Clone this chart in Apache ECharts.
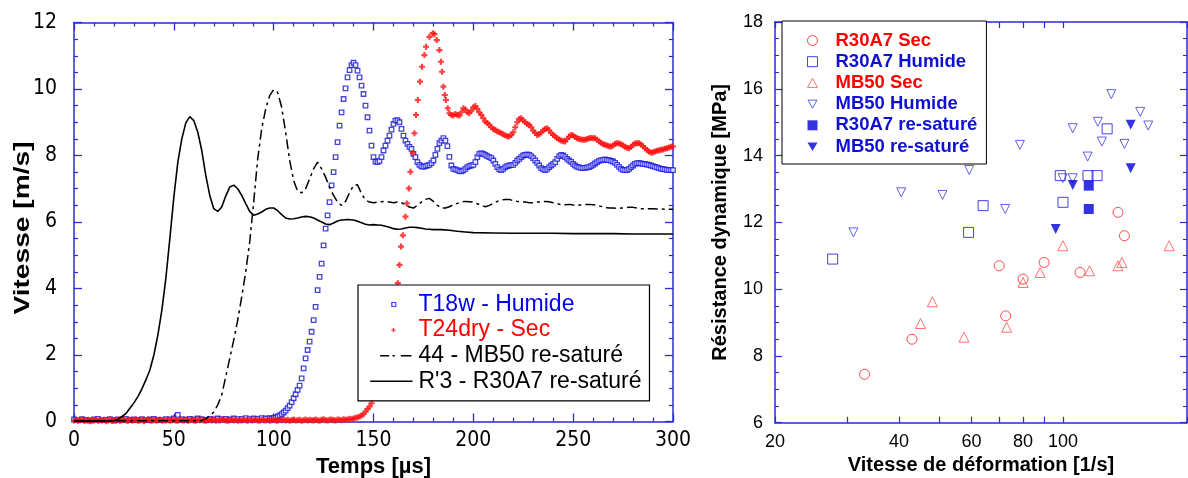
<!DOCTYPE html>
<html><head><meta charset="utf-8">
<script src="https://cdn.jsdelivr.net/npm/echarts@6/dist/echarts.min.js"></script>
<style>html,body{margin:0;padding:0;background:#fff}#c{width:1188px;height:478px}</style>
</head><body><div id="c"></div><script>
// ---------------- Left chart: velocity vs time ----------------
const LEFT_X_TICKS = { min: 0, max: 300, interval: 50 };
const LEFT_Y_TICKS = { min: 0, max: 12, interval: 2 };

// T18w - Humide  [time µs, velocity m/s]
const t18wHumide = [
[0,0.06],[2,0.04],[4,0.07],[6,0.05],[8,0.03],[10,0.06],[12,0.08],[14,0.04],[16,0.05],[18,0.07],
[20,0.03],[22,0.06],[24,0.05],[26,0.08],[28,0.04],[30,0.06],[32,0.05],[34,0.07],[36,0.04],[38,0.06],
[40,0.08],[42,0.05],[44,0.04],[46,0.07],[48,0.06],[50,0.09],[52,0.2],[54,0.07],[56,0.05],[58,0.08],
[60,0.06],[62,0.09],[64,0.07],[66,0.05],[68,0.08],[70,0.06],[72,0.09],[74,0.07],[76,0.08],[78,0.06],
[80,0.09],[82,0.07],[84,0.08],[86,0.1],[88,0.07],[90,0.09],[92,0.08],[94,0.1],[96,0.09],[98,0.1],
[99,0.09],[100,0.1],[101,0.12],[102,0.15],[103,0.18],[104,0.22],[105,0.27],[106,0.33],[107,0.4],[108,0.48],
[109,0.58],[110,0.7],[111,0.82],[112,0.95],[113,1.08],[114,1.3],[115,1.6],[116,1.9],[117,2.15],[118,2.4],
[119,2.7],[120,3.05],[121,3.45],[122,3.95],[123,4.35],[124,4.75],[125,5.3],[126,5.8],[127,6.2],[128,6.6],
[129,7.1],[130,7.5],[131,7.95],[132,8.4],[133,8.9],[134,9.3],[135,9.7],[136,10.02],[137,10.35],[138,10.57],
[139,10.72],[140,10.79],[141,10.72],[142,10.55],[143,10.35],[144,10.1],[145,9.85],[146,9.5],[147,9.15],[148,8.75],
[149,8.3],[150,7.95],[151,7.82],[152,7.8],[153,7.84],[154,7.95],[155,8.15],[156,8.3],[157,8.45],[158,8.6],
[159,8.78],[160,8.95],[161,9.05],[162,9.06],[163,9.0],[164,8.8],[165,8.6],[166,8.45],[167,8.35],[168,8.26],
[169,8.2],[170,8.05],[171,7.95],[172,7.8],[173,7.72],[174,7.67],[175,7.66],[176,7.68],[177,7.7],[178,7.72],
[179,7.77],[180,7.85],[181,8.02],[182,8.2],[183,8.37],[184,8.45],[185,8.52],[186,8.45],[187,8.28],[188,7.96],
[189,7.7],[190,7.6],[191,7.58],[192,7.56],[193,7.53],[194,7.52],[195,7.55],[196,7.6],[197,7.65],[198,7.68],
[199,7.7],[200,7.72],[201,7.8],[202,7.95],[203,8.05],[204,8.07],[205,8.05],[206,8.02],[207,7.98],[208,7.95],
[209,7.92],[210,7.85],[211,7.75],[212,7.65],[213,7.58],[214,7.56],[215,7.6],[216,7.65],[217,7.68],[218,7.7],
[219,7.71],[220,7.72],[221,7.78],[222,7.85],[223,7.9],[224,7.95],[225,8.0],[226,8.02],[227,8.03],[228,8.02],
[229,7.98],[230,7.92],[231,7.85],[232,7.78],[233,7.7],[234,7.62],[235,7.58],[236,7.56],[237,7.6],[238,7.65],
[239,7.7],[240,7.75],[241,7.8],[242,7.9],[243,7.98],[244,8.02],[245,8.0],[246,7.95],[247,7.9],[248,7.85],
[249,7.81],[250,7.75],[251,7.7],[252,7.66],[253,7.64],[254,7.63],[255,7.63],[256,7.63],[257,7.64],[258,7.65],
[259,7.68],[260,7.72],[261,7.76],[262,7.8],[263,7.84],[264,7.86],[265,7.87],[266,7.88],[267,7.86],[268,7.86],
[269,7.84],[270,7.82],[271,7.78],[272,7.72],[273,7.66],[274,7.6],[275,7.57],[276,7.56],[277,7.56],[278,7.6],
[279,7.65],[280,7.7],[281,7.75],[282,7.77],[283,7.77],[284,7.76],[285,7.75],[286,7.74],[287,7.73],[288,7.72],
[289,7.7],[290,7.68],[291,7.66],[292,7.64],[293,7.62],[294,7.6],[295,7.59],[296,7.58],[297,7.57],[298,7.56],
[299,7.56],[300,7.56]
];

// T24dry - Sec
const t24drySec = [
[0,0.03],[1,0.05],[2,0.02],[3,0.04],[4,0.06],[5,0.02],[6,0.03],[7,0.05],[8,0.01],[9,0.04],
[10,0.03],[11,0.06],[12,0.02],[13,0.04],[14,0.03],[15,0.05],[16,0.01],[17,0.03],[18,0.06],[19,0.02],
[20,0.04],[21,0.03],[22,0.05],[23,0.02],[24,0.04],[25,0.07],[26,0.03],[27,0.02],[28,0.05],[29,0.03],
[30,0.04],[31,0.06],[32,0.02],[33,0.03],[34,0.05],[35,0.01],[36,0.04],[37,0.06],[38,0.03],[39,0.02],
[40,0.05],[41,0.03],[42,0.04],[43,0.06],[44,0.02],[45,0.04],[46,0.03],[47,0.05],[48,0.02],[49,0.04],
[50,0.06],[51,0.03],[52,0.02],[53,0.05],[54,0.04],[55,0.03],[56,0.06],[57,0.02],[58,0.04],[59,0.05],
[60,0.03],[61,0.02],[62,0.05],[63,0.04],[64,0.06],[65,0.03],[66,0.02],[67,0.04],[68,0.05],[69,0.03],
[70,0.06],[71,0.02],[72,0.04],[73,0.03],[74,0.05],[75,0.07],[76,0.03],[77,0.02],[78,0.04],[79,0.06],
[80,0.03],[81,0.05],[82,0.02],[83,0.04],[84,0.03],[85,0.06],[86,0.04],[87,0.02],[88,0.05],[89,0.03],
[90,0.04],[91,0.06],[92,0.03],[93,0.02],[94,0.05],[95,0.04],[96,0.03],[97,0.06],[98,0.02],[99,0.04],
[100,0.05],[101,0.03],[102,0.02],[103,0.05],[104,0.04],[105,0.06],[106,0.03],[107,0.05],[108,0.02],[109,0.04],
[110,0.06],[111,0.03],[112,0.04],[113,0.05],[114,0.02],[115,0.04],[116,0.06],[117,0.03],[118,0.05],[119,0.04],
[120,0.03],[121,0.06],[122,0.04],[123,0.02],[124,0.05],[125,0.07],[126,0.04],[127,0.03],[128,0.05],[129,0.06],
[130,0.04],[131,0.03],[132,0.06],[133,0.05],[134,0.04],[135,0.07],[136,0.05],[137,0.06],[138,0.08],[139,0.07],
[140,0.09],[141,0.11],[142,0.12],[143,0.15],[144,0.18],[145,0.22],[146,0.3],[147,0.37],[148,0.45],[149,0.55],
[150,0.7],[151,0.85],[152,1.0],[153,1.2],[154,1.42],[155,1.65],[156,1.9],[157,2.2],[158,2.5],[159,2.85],
[160,3.2],[161,3.65],[162.2,4.16],[163,4.71],[163.8,5.26],[164.7,5.6],[166,6.16],[166.7,6.56],[167.7,7.01],[168.5,7.51],
[169.7,8.07],[170.5,8.67],[171.3,9.22],[172.2,9.67],[173.3,10.22],[174.3,10.67],[175.5,11.02],[176.3,11.27],[178,11.57],[179.7,11.68],
[180.5,11.65],[181.7,11.47],[183,11.17],[183.8,10.82],[184.3,10.52],[185,10.07],[185.7,9.82],[186.3,9.67],[187.2,9.42],[188,9.27],
[189,9.22],[190,9.2],[191,9.25],[192,9.22],[193,9.2],[194,9.3],[195,9.42],[196,9.38],[197,9.3],[198,9.27],
[199,9.35],[200,9.45],[201,9.49],[202,9.4],[203,9.3],[204,9.22],[205,9.12],[206,9.02],[207,8.98],[208,8.92],
[209,8.85],[210,8.8],[211,8.77],[212,8.72],[213,8.7],[214,8.67],[215,8.64],[216,8.6],[217,8.58],[218,8.57],
[219,8.62],[220,8.7],[221,8.85],[222,9.0],[223,9.1],[224,9.12],[225,9.05],[226,9.0],[227,8.95],[228,8.92],
[229,8.85],[230,8.75],[231,8.68],[232,8.62],[233,8.64],[234,8.7],[235,8.75],[236,8.8],[237,8.82],[238,8.76],
[239,8.68],[240,8.62],[241,8.57],[242,8.52],[243,8.48],[244,8.45],[245,8.43],[246,8.42],[247,8.5],[248,8.57],
[249,8.62],[250,8.6],[251,8.56],[252,8.52],[253,8.5],[254,8.48],[255,8.47],[256,8.47],[257,8.5],[258,8.52],
[259,8.53],[260,8.52],[261,8.52],[262,8.47],[263,8.42],[264,8.38],[265,8.34],[266,8.32],[267,8.3],[268,8.28],
[269,8.27],[270,8.3],[271,8.35],[272,8.37],[273,8.36],[274,8.34],[275,8.3],[276,8.26],[277,8.23],[278,8.22],
[279,8.26],[280,8.32],[281,8.36],[282,8.37],[283,8.37],[284,8.33],[285,8.28],[286,8.22],[287,8.16],[288,8.12],
[289,8.08],[290,8.1],[291,8.12],[292,8.14],[293,8.16],[294,8.17],[295,8.18],[296,8.2],[297,8.22],[298,8.24],
[299,8.26],[300,8.27]
];

// 44 - MB50 re-saturé
const mb50Resat44 = [
[0,0.02],[20,0.02],[40,0.02],[62,0.02],[64,0.03],[66,0.08],[68,0.18],[70,0.28],[72,0.5],[74,0.8],
[76,1.35],[78,1.9],[80,2.45],[82,3.05],[84,3.75],[86,4.5],[88,5.4],[90,6.6],[92,7.9],[94,8.8],
[96,9.4],[98,9.8],[100,9.98],[102,9.9],[104,9.45],[106,8.7],[108,7.86],[110,7.25],[112,6.92],[114,6.88],
[116,7.0],[118,7.3],[120,7.6],[122,7.8],[124,7.6],[126,7.35],[128,7.05],[130,6.8],[132,6.6],[134,6.5],
[136,6.62],[138,6.88],[140,7.1],[142,7.12],[144,6.85],[146,6.66],[148,6.6],[150,6.58],[152,6.6],[154,6.61],
[156,6.62],[158,6.6],[160,6.58],[162,6.6],[164,6.58],[166,6.52],[168,6.45],[170,6.42],[172,6.5],[174,6.6],
[176,6.68],[178,6.71],[180,6.62],[182,6.5],[184,6.42],[186,6.42],[188,6.46],[190,6.52],[192,6.56],[194,6.6],
[196,6.62],[198,6.61],[200,6.6],[202,6.55],[204,6.5],[206,6.46],[208,6.5],[210,6.56],[212,6.62],[214,6.66],
[216,6.68],[218,6.68],[220,6.64],[222,6.62],[224,6.6],[226,6.6],[228,6.58],[230,6.58],[232,6.6],[234,6.6],
[236,6.62],[238,6.61],[240,6.58],[242,6.55],[244,6.52],[246,6.52],[248,6.53],[250,6.51],[252,6.5],[254,6.52],
[256,6.53],[258,6.53],[260,6.52],[262,6.5],[264,6.47],[266,6.44],[268,6.42],[270,6.42],[272,6.41],[274,6.42],
[276,6.43],[278,6.44],[280,6.44],[282,6.42],[284,6.4],[286,6.4],[288,6.4],[290,6.4],[292,6.39],[294,6.39],
[296,6.38],[298,6.38],[300,6.38]
];

// R'3 - R30A7 re-saturé
const r30a7ResatR3 = [
[0,0.01],[10,0.01],[20,0.02],[22,0.07],[24,0.15],[26,0.24],[28,0.4],[30,0.56],[32,0.75],[34,0.98],
[36,1.25],[38,1.55],[40,2.0],[42,2.6],[44,3.35],[46,4.3],[48,5.5],[50,6.75],[52,7.8],[54,8.5],
[56,8.98],[58,9.17],[60,9.05],[62,8.7],[64,8.15],[66,7.4],[68,6.8],[70,6.4],[72,6.32],[74,6.45],
[76,6.78],[78,7.05],[80,7.11],[82,7.0],[84,6.8],[86,6.55],[88,6.32],[90,6.2],[92,6.24],[94,6.3],
[96,6.38],[98,6.42],[100,6.42],[102,6.34],[104,6.22],[106,6.12],[108,6.09],[110,6.1],[112,6.12],[114,6.15],
[116,6.17],[118,6.16],[120,6.12],[122,6.06],[124,6.0],[126,5.94],[128,5.92],[130,5.97],[132,6.03],[134,6.06],
[136,6.07],[138,6.07],[140,6.06],[142,6.02],[144,5.98],[146,5.93],[148,5.91],[150,5.92],[152,5.91],[154,5.9],
[156,5.87],[158,5.84],[160,5.8],[162,5.78],[164,5.79],[166,5.82],[168,5.84],[170,5.84],[172,5.83],[174,5.81],
[176,5.79],[178,5.78],[180,5.77],[184,5.77],[188,5.75],[192,5.72],[196,5.7],[200,5.68],[210,5.67],[220,5.66],
[230,5.66],[240,5.66],[250,5.65],[260,5.65],[270,5.65],[280,5.64],[290,5.64],[300,5.64]
];

// ---------------- Right chart: dynamic strength vs strain rate ----------------
const RIGHT_X_LABELS = [20, 40, 60, 80, 100];
const RIGHT_X_TICKS = [20, 30, 40, 50, 60, 70, 80, 90, 100, 200];
const RIGHT_Y_TICKS = { min: 6, max: 18, interval: 2 };

const r30a7SecRate = [136, 141, 70, 80, 90, 110, 72.6, 43, 33];
const r30a7SecRes  = [12.3, 11.6, 10.7, 10.3, 10.8, 10.5, 9.2, 8.5, 7.45];

const r30a7HumRate = [27.6, 59, 64, 100, 98.5, 115, 121, 128];
const r30a7HumRes  = [10.9, 11.7, 12.5, 12.6, 13.4, 13.4, 13.4, 14.8];

const mb50SecRate = [181, 100, 139, 136, 116, 88, 80, 48.2, 45.1, 57.5, 73];
const mb50SecRes  = [11.3, 11.3, 10.8, 10.7, 10.55, 10.5, 10.2, 9.62, 8.97, 8.56, 8.86];

const mb50HumRate = [31, 72.4, 40.5, 51, 59.2, 78.6, 99.8, 105.6, 105.6, 114.8, 121.5, 124.3, 131, 141, 154, 161];
const mb50HumRes  = [11.7, 12.4, 12.9, 12.82, 13.57, 14.32, 13.32, 13.32, 14.82, 13.97, 15.01, 14.42, 15.84, 14.35, 15.31, 14.9];

const r30a7SatRate = [115.5, 115.5];
const r30a7SatRes  = [13.1, 12.4];

const mb50SatRate = [105.6, 146, 146, 96];
const mb50SatRes  = [13.12, 14.92, 13.62, 11.8];

// ---------------- styles ----------------
const AXIS_BLUE = '#2a2ad8';
const BLUE = '#1414e0';
const RED = '#ff1010';
const ARIAL = '"Liberation Sans", Arial, Helvetica, sans-serif';
const NARROW = '"Liberation Sans Narrow", "Arial Narrow", "DejaVu Sans Condensed", sans-serif';
const pairs = (xs, ys) => xs.map((x, i) => [x, ys[i]]);

const leftXBase = {
  gridIndex: 0, type: 'value', min: LEFT_X_TICKS.min, max: LEFT_X_TICKS.max, interval: LEFT_X_TICKS.interval,
  axisLine: { onZero: false, lineStyle: { color: AXIS_BLUE, width: 1.5 } },
  axisTick: { inside: true, length: 8, lineStyle: { color: AXIS_BLUE, width: 1.3 } },
  minorTick: { show: true, splitNumber: 5, length: 4, lineStyle: { color: AXIS_BLUE, width: 1.2 } },
  splitLine: { show: false }, minorSplitLine: { show: false }
};
const leftYBase = {
  gridIndex: 0, type: 'value', min: LEFT_Y_TICKS.min, max: LEFT_Y_TICKS.max, interval: LEFT_Y_TICKS.interval,
  axisLine: { onZero: false, lineStyle: { color: AXIS_BLUE, width: 1.5 } },
  axisTick: { inside: true, length: 8, lineStyle: { color: AXIS_BLUE, width: 1.3 } },
  minorTick: { show: true, splitNumber: 4, length: 4, lineStyle: { color: AXIS_BLUE, width: 1.2 } },
  splitLine: { show: false }, minorSplitLine: { show: false }
};
const rightXBase = {
  gridIndex: 1, type: 'log', logBase: 10, min: 20, max: 200,
  axisLine: { onZero: false, lineStyle: { color: AXIS_BLUE, width: 1.5 } },
  axisTick: { inside: true, length: 6, customValues: RIGHT_X_TICKS, lineStyle: { color: AXIS_BLUE, width: 1.2 } },
  minorTick: { show: false },
  splitLine: { show: false }, minorSplitLine: { show: false }
};
const rightYBase = {
  gridIndex: 1, type: 'value', min: RIGHT_Y_TICKS.min, max: RIGHT_Y_TICKS.max, interval: RIGHT_Y_TICKS.interval,
  axisLine: { onZero: false, lineStyle: { color: AXIS_BLUE, width: 1.5 } },
  axisTick: { inside: true, length: 7, lineStyle: { color: AXIS_BLUE, width: 1.2 } },
  minorTick: { show: true, splitNumber: 4, length: 4, lineStyle: { color: AXIS_BLUE, width: 1.1 } },
  splitLine: { show: false }, minorSplitLine: { show: false }
};

const openStyle = (c) => ({ color: 'rgba(255,255,255,0)', borderColor: c, borderWidth: 1 });
const BOX = 'M0,0M36,14';
const LBOX = 'M0,0M44,14';

const option = {
  animation: false,
  backgroundColor: '#fff',
  grid: [
    { left: 74, top: 22.5, width: 599, height: 399, containLabel: false, outerBoundsMode: 'none' },
    { left: 775, top: 22, width: 412, height: 400.7, containLabel: false, outerBoundsMode: 'none' }
  ],
  xAxis: [
    Object.assign({}, leftXBase, {
      position: 'bottom',
      axisLabel: { margin: 9, color: '#000', fontFamily: NARROW, fontSize: 21 },
      name: 'Temps [µs]', nameLocation: 'middle', nameGap: 29,
      nameTextStyle: { color: '#000', fontFamily: ARIAL, fontWeight: 'bold', fontSize: 22 }
    }),
    Object.assign({}, leftXBase, { position: 'top', axisLabel: { show: false } }),
    Object.assign({}, rightXBase, {
      position: 'bottom',
      axisLabel: { customValues: RIGHT_X_LABELS, margin: 10, color: '#000', fontFamily: ARIAL, fontSize: 18 },
      name: 'Vitesse de déformation [1/s]', nameLocation: 'middle', nameGap: 32,
      nameTextStyle: { color: '#000', fontFamily: ARIAL, fontWeight: 'bold', fontSize: 20 }
    }),
    Object.assign({}, rightXBase, { position: 'top', axisLabel: { show: false } })
  ],
  yAxis: [
    Object.assign({}, leftYBase, {
      position: 'left',
      axisLabel: { margin: 17, color: '#000', fontFamily: NARROW, fontSize: 21 }
    }),
    Object.assign({}, leftYBase, { position: 'right', axisLabel: { show: false } }),
    Object.assign({}, rightYBase, {
      position: 'left',
      axisLabel: { margin: 12, color: '#000', fontFamily: ARIAL, fontSize: 18 },
      name: 'Résistance dynamique [MPa]', nameLocation: 'middle', nameGap: 45, nameRotate: 90,
      nameTextStyle: { color: '#000', fontFamily: ARIAL, fontWeight: 'bold', fontSize: 20 }
    }),
    Object.assign({}, rightYBase, { position: 'right', axisLabel: { show: false } })
  ],
  graphic: [{
    type: 'text', x: 23, y: 228, rotation: Math.PI / 2, scaleX: 1.28, z: 100,
    style: { text: 'Vitesse [m/s]', fill: '#000', font: 'bold 22px "Liberation Sans", Arial, sans-serif', align: 'center', verticalAlign: 'middle' }
  }],
  legend: [
    {
      orient: 'vertical', align: 'left', left: 358, top: 285, padding: [8, 8, 8, 9],
      itemGap: 2.6, itemWidth: 44, itemHeight: 14, symbolKeepAspect: false, selectedMode: false,
      backgroundColor: '#fff', borderColor: '#000', borderWidth: 1.2,
      textStyle: { fontFamily: ARIAL, fontSize: 23, lineHeight: 23, color: '#000' },
      data: [
        { name: 'T18w - Humide', icon: 'path://' + LBOX + 'M22.3,5L26.3,5L26.3,9L22.3,9Z',
          itemStyle: { color: 'none', borderColor: BLUE, borderWidth: 1.2 }, textStyle: { color: '#0000f0' } },
        { name: 'T24dry - Sec', icon: 'path://' + LBOX + 'M21.8,6.3L23.3,6.3L23.3,4.8L24.7,4.8L24.7,6.3L26.2,6.3L26.2,7.7L24.7,7.7L24.7,9.2L23.3,9.2L23.3,7.7L21.8,7.7Z',
          itemStyle: { color: RED, borderWidth: 0 }, textStyle: { color: '#ff0000' } },
        { name: '44 - MB50 re-saturé', icon: 'path://' + LBOX + 'M10.7,7L19.7,7M23,7L25.3,7M31.3,7L42,7',
          itemStyle: { color: 'none', borderColor: '#000', borderWidth: 1.5 }, textStyle: { color: '#000' } },
        { name: "R'3 - R30A7 re-saturé", icon: 'path://' + LBOX + 'M0.7,7L43,7',
          itemStyle: { color: 'none', borderColor: '#000', borderWidth: 1.5 }, textStyle: { color: '#000' } }
      ]
    },
    {
      orient: 'vertical', align: 'left', left: 782, top: 21, padding: [10, 9, 8, 10],
      itemGap: 2.2, itemWidth: 36, itemHeight: 14, symbolKeepAspect: false, selectedMode: false,
      backgroundColor: '#fff', borderColor: '#000', borderWidth: 1,
      textStyle: { fontFamily: ARIAL, fontWeight: 'bold', fontSize: 18.5, lineHeight: 18.5 },
      data: [
        { name: 'R30A7 Sec', icon: 'path://' + BOX + 'M23,7A5,5,0,1,1,13,7A5,5,0,1,1,23,7Z',
          itemStyle: { color: 'none', borderColor: '#ff2020', borderWidth: 1 }, textStyle: { color: '#ff0000' } },
        { name: 'R30A7 Humide', icon: 'path://' + BOX + 'M13,2L23,2L23,12L13,12Z',
          itemStyle: { color: 'none', borderColor: BLUE, borderWidth: 1 }, textStyle: { color: '#1010d0' } },
        { name: 'MB50 Sec', icon: 'path://' + BOX + 'M18,2.5L23,11.5L13,11.5Z',
          itemStyle: { color: 'none', borderColor: '#ff5050', borderWidth: 1 }, textStyle: { color: '#ff0000' } },
        { name: 'MB50 Humide', icon: 'path://' + BOX + 'M13.5,3L22.5,3L18,11Z',
          itemStyle: { color: 'none', borderColor: '#3a3ae0', borderWidth: 1 }, textStyle: { color: '#1010d0' } },
        { name: 'R30A7 re-saturé', icon: 'path://' + BOX + 'M13,2L23,2L23,12L13,12Z',
          itemStyle: { color: '#0000d8', borderWidth: 0 }, textStyle: { color: '#1010d0' } },
        { name: 'MB50 re-saturé', icon: 'path://' + BOX + 'M13,3L23,3L18,11.5Z',
          itemStyle: { color: '#0000d8', borderWidth: 0 }, textStyle: { color: '#1010d0' } }
      ]
    }
  ],
  series: [
    { name: 'T18w - Humide', type: 'scatter', xAxisIndex: 0, yAxisIndex: 0, data: t18wHumide,
      symbol: 'rect', symbolSize: 4.5, itemStyle: { color: '#fff', borderColor: BLUE, borderWidth: 1.3 } },
    { name: 'T24dry - Sec', type: 'scatter', xAxisIndex: 0, yAxisIndex: 0, data: t24drySec,
      symbol: 'path://M1.6,0L3.4,0L3.4,1.6L5,1.6L5,3.4L3.4,3.4L3.4,5L1.6,5L1.6,3.4L0,3.4L0,1.6L1.6,1.6Z', symbolSize: 6, itemStyle: { color: RED } },
    { name: '44 - MB50 re-saturé', type: 'line', xAxisIndex: 0, yAxisIndex: 0, data: mb50Resat44,
      symbol: 'none', showSymbol: false, lineStyle: { color: '#000', width: 1.5, type: [10, 4, 3, 4] } },
    { name: "R'3 - R30A7 re-saturé", type: 'line', xAxisIndex: 0, yAxisIndex: 0, data: r30a7ResatR3,
      symbol: 'none', showSymbol: false, lineStyle: { color: '#000', width: 1.6 } },

    { name: 'R30A7 Sec', type: 'scatter', xAxisIndex: 2, yAxisIndex: 2, data: pairs(r30a7SecRate, r30a7SecRes),
      symbol: 'circle', symbolSize: 10, itemStyle: openStyle('#ff2020') },
    { name: 'R30A7 Humide', type: 'scatter', xAxisIndex: 2, yAxisIndex: 2, data: pairs(r30a7HumRate, r30a7HumRes),
      symbol: 'rect', symbolSize: 10, itemStyle: openStyle(BLUE) },
    { name: 'MB50 Sec', type: 'scatter', xAxisIndex: 2, yAxisIndex: 2, data: pairs(mb50SecRate, mb50SecRes),
      symbol: 'triangle', symbolSize: 10, itemStyle: openStyle('#ff5050') },
    { name: 'MB50 Humide', type: 'scatter', xAxisIndex: 2, yAxisIndex: 2, data: pairs(mb50HumRate, mb50HumRes),
      symbol: 'triangle', symbolRotate: 180, symbolSize: 9, itemStyle: openStyle('#3a3ae0') },
    { name: 'R30A7 re-saturé', type: 'scatter', xAxisIndex: 2, yAxisIndex: 2, data: pairs(r30a7SatRate, r30a7SatRes),
      symbol: 'rect', symbolSize: 10, itemStyle: { color: '#0000d8' } },
    { name: 'MB50 re-saturé', type: 'scatter', xAxisIndex: 2, yAxisIndex: 2, data: pairs(mb50SatRate, mb50SatRes),
      symbol: 'triangle', symbolRotate: 180, symbolSize: 10, itemStyle: { color: '#0000d8' } }
  ]
};

const chart = echarts.init(document.getElementById('c'), null, { renderer: 'canvas', width: 1188, height: 478 });
chart.setOption(option);
</script></body></html>
